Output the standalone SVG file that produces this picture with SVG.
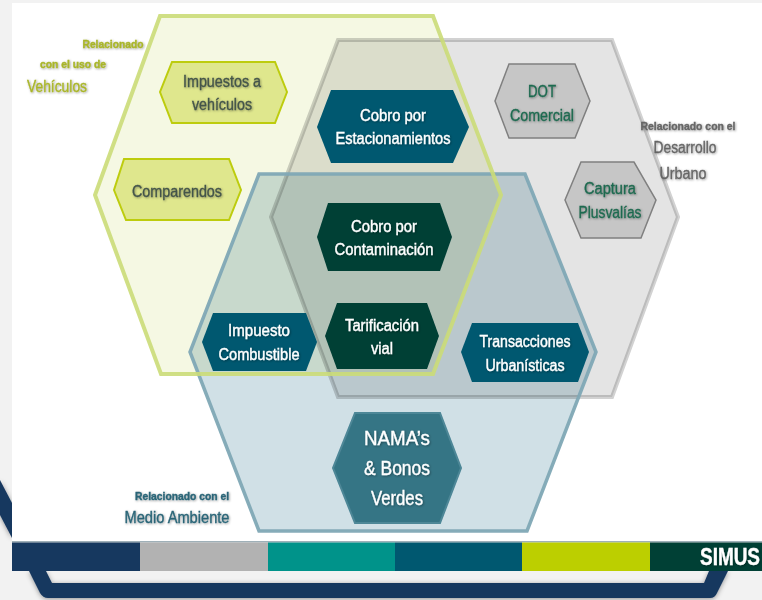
<svg xmlns="http://www.w3.org/2000/svg" width="762" height="600" viewBox="0 0 762 600">
<defs>
<filter id="soft" x="-5%" y="-5%" width="110%" height="110%"><feGaussianBlur stdDeviation="0.6"/></filter>
<filter id="plate" x="-5%" y="-20%" width="110%" height="140%"><feDropShadow dx="0" dy="1" stdDeviation="2.5" flood-color="#000" flood-opacity="0.4"/></filter>
<filter id="txt" x="-10%" y="-20%" width="120%" height="140%"><feGaussianBlur in="SourceGraphic" stdDeviation="0.6" result="b"/><feDropShadow in="b" dx="0.8" dy="0.8" stdDeviation="0.8" flood-color="#000" flood-opacity="0.4"/></filter>
</defs>
<style>
text{font-family:"Liberation Sans","Noto Sans",sans-serif;text-anchor:middle;filter:url(#txt);stroke-width:0.35}
.fillset{mix-blend-mode:multiply}
.edge{fill:none;stroke-linejoin:miter}
.node{stroke-width:2}
.w{fill:#fff;stroke:#fff;font-size:16px}
.k{fill:#44544a;stroke:#44544a;font-size:16px}
.g{fill:#1f6a50;stroke:#1f6a50;font-size:16px}
.lime{fill:#a9b52a;stroke:#a9b52a}
.gr{fill:#666;stroke:#666}
.nv{fill:#2a6577;stroke:#2a6577}
</style>
<rect width="762" height="600" fill="#f2f2f2"/>
<g id="backplate" filter="url(#plate)">
<path d="M0 480L12 503V538L0 515Z" fill="#17375e"/>
<path d="M29 571L40 593Q43 598 48 598H710Q715 598 717 593L728 571H709L704 583H52L46 571Z" fill="#17375e"/>
</g>
<rect x="12" y="3" width="750" height="539" fill="#fff"/>
<g id="colour-bar" filter="url(#soft)">
<rect x="12" y="541" width="750" height="1.5" fill="#9fb0b8"/>
<rect x="12" y="542.5" width="128" height="28.5" fill="#17375e"/>
<rect x="140" y="542.5" width="128" height="28.5" fill="#b2b2b2"/>
<rect x="268" y="542.5" width="127" height="28.5" fill="#00938a"/>
<rect x="395" y="542.5" width="127" height="28.5" fill="#005870"/>
<rect x="522" y="542.5" width="128" height="28.5" fill="#bccf00"/>
<rect x="650" y="542.5" width="112" height="28.5" fill="#003f35"/>
</g>
<g id="connectors"/>
<g id="sets" filter="url(#soft)" style="isolation:isolate">
<path id="set-vehiculos" class="fillset" d="M160 16H433L501 195L433 374H161L95 195Z" fill="#f5f8e3"/>
<path id="set-urbano" class="fillset" d="M338 40H612L678 217L612 397H338L271 217Z" fill="#e4e4e4"/>
<path id="set-ambiente" class="fillset" d="M259 174H525L596 352L527 531H259L190 352Z" fill="#d0e0e6"/>
<path class="edge" style="mix-blend-mode:multiply" d="M338 40H612L678 217L612 397H338L271 217Z" stroke="#d2d2d2" stroke-width="4"/>
<path class="edge" d="M259 174H525L596 352L527 531H259L190 352Z" stroke="#7fa8b5" stroke-width="3.5" stroke-opacity="0.95"/>
<path class="edge" d="M160 16H433L501 195L433 374H161L95 195Z" stroke="#cbdc78" stroke-width="4" stroke-opacity="0.9"/>
</g>
<g id="node-impuestos-vehiculos"><path class="node" filter="url(#soft)" d="M172 62H275L287 92L275 123H172L160 92Z" fill="#dfe78d" stroke="#bdcc10"/><text x="222" y="87" class="k" textLength="78" lengthAdjust="spacingAndGlyphs">Impuestos a</text><text x="222" y="110" class="k" textLength="60" lengthAdjust="spacingAndGlyphs">vehículos</text></g>
<g id="node-comparendos"><path class="node" filter="url(#soft)" d="M124 159H229L241 190L229 220H126L114 190Z" fill="#dfe78d" stroke="#bdcc10"/><text x="177" y="197" class="k" textLength="90" lengthAdjust="spacingAndGlyphs">Comparendos</text></g>
<g id="node-estacionamientos"><path filter="url(#soft)" d="M331 90H453L469 127L453 163H331L317 127Z" fill="#005870"/><text x="393" y="121" class="w" textLength="66" lengthAdjust="spacingAndGlyphs">Cobro por</text><text x="393" y="144" class="w" textLength="115" lengthAdjust="spacingAndGlyphs">Estacionamientos</text></g>
<g id="node-contaminacion"><path filter="url(#soft)" d="M328 203H440L452 237L440 271H328L317 237Z" fill="#013f36"/><text x="384" y="232" class="w" textLength="66" lengthAdjust="spacingAndGlyphs">Cobro por</text><text x="384" y="255" class="w" textLength="99" lengthAdjust="spacingAndGlyphs">Contaminación</text></g>
<g id="node-tarificacion"><path filter="url(#soft)" d="M337 303H427L439 336L427 369H337L325 336Z" fill="#013f36"/><text x="382" y="331" class="w" textLength="74" lengthAdjust="spacingAndGlyphs">Tarificación</text><text x="382" y="354" class="w" textLength="22" lengthAdjust="spacingAndGlyphs">vial</text></g>
<g id="node-combustible"><path filter="url(#soft)" d="M213 313H306L317 342L306 371H213L202 342Z" fill="#005870"/><text x="259" y="336" class="w" textLength="62" lengthAdjust="spacingAndGlyphs">Impuesto</text><text x="259" y="360" class="w" textLength="81" lengthAdjust="spacingAndGlyphs">Combustible</text></g>
<g id="node-transacciones"><path filter="url(#soft)" d="M472 323H578L589 352L578 382H472L461 352Z" fill="#005870"/><text x="525" y="347" class="w" textLength="91" lengthAdjust="spacingAndGlyphs">Transacciones</text><text x="525" y="371" class="w" textLength="79" lengthAdjust="spacingAndGlyphs">Urbanísticas</text></g>
<g id="node-nama"><path class="node" filter="url(#soft)" d="M355 413H440L461 468L440 523H355L333 468Z" fill="#367585" stroke="#4d8797"/><text x="397" y="445" class="w" style="font-size:21px" textLength="66" lengthAdjust="spacingAndGlyphs">NAMA’s</text><text x="397" y="475" class="w" style="font-size:21px" textLength="66" lengthAdjust="spacingAndGlyphs">&amp; Bonos</text><text x="397" y="505" class="w" style="font-size:21px" textLength="52" lengthAdjust="spacingAndGlyphs">Verdes</text></g>
<g id="node-dot"><path filter="url(#soft)" d="M509 64H575L590 101L575 138H509L495 101Z" fill="#c6c6c6" stroke="#808080" stroke-width="1.5"/><text x="542" y="97" class="g" textLength="28" lengthAdjust="spacingAndGlyphs">DOT</text><text x="542" y="121" class="g" textLength="64" lengthAdjust="spacingAndGlyphs">Comercial</text></g>
<g id="node-captura"><path filter="url(#soft)" d="M581 162H634L656 200L641 238H581L565 200Z" fill="#c6c6c6" stroke="#808080" stroke-width="1.5"/><text x="610" y="194" class="g" textLength="52" lengthAdjust="spacingAndGlyphs">Captura</text><text x="610" y="218" class="g" textLength="63" lengthAdjust="spacingAndGlyphs">Plusvalías</text></g>
<g id="label-vehiculos"><text x="113" y="48" class="lime" style="font-size:10px;font-weight:bold" textLength="61" lengthAdjust="spacingAndGlyphs">Relacionado</text><text x="73" y="68" class="lime" style="font-size:10px;font-weight:bold" textLength="66" lengthAdjust="spacingAndGlyphs">con el uso de</text><text x="57" y="92" class="lime" style="font-size:16px" textLength="60" lengthAdjust="spacingAndGlyphs">Vehículos</text></g>
<g id="label-urbano"><text x="688" y="130" class="gr" style="font-size:10px;font-weight:bold" textLength="95" lengthAdjust="spacingAndGlyphs">Relacionado con el</text><text x="685" y="153" class="gr" style="font-size:16px" textLength="63" lengthAdjust="spacingAndGlyphs">Desarrollo</text><text x="683" y="179" class="gr" style="font-size:16px" textLength="47" lengthAdjust="spacingAndGlyphs">Urbano</text></g>
<g id="label-ambiente"><text x="182" y="500" class="nv" style="font-size:10px;font-weight:bold" textLength="94" lengthAdjust="spacingAndGlyphs">Relacionado con el</text><text x="177" y="523" class="nv" style="font-size:16px" textLength="105" lengthAdjust="spacingAndGlyphs">Medio Ambiente</text></g>
<text x="730" y="565" style="fill:#fff;stroke:#fff;font-size:24px;font-weight:bold" textLength="60" lengthAdjust="spacingAndGlyphs">SIMUS</text>
</svg>
